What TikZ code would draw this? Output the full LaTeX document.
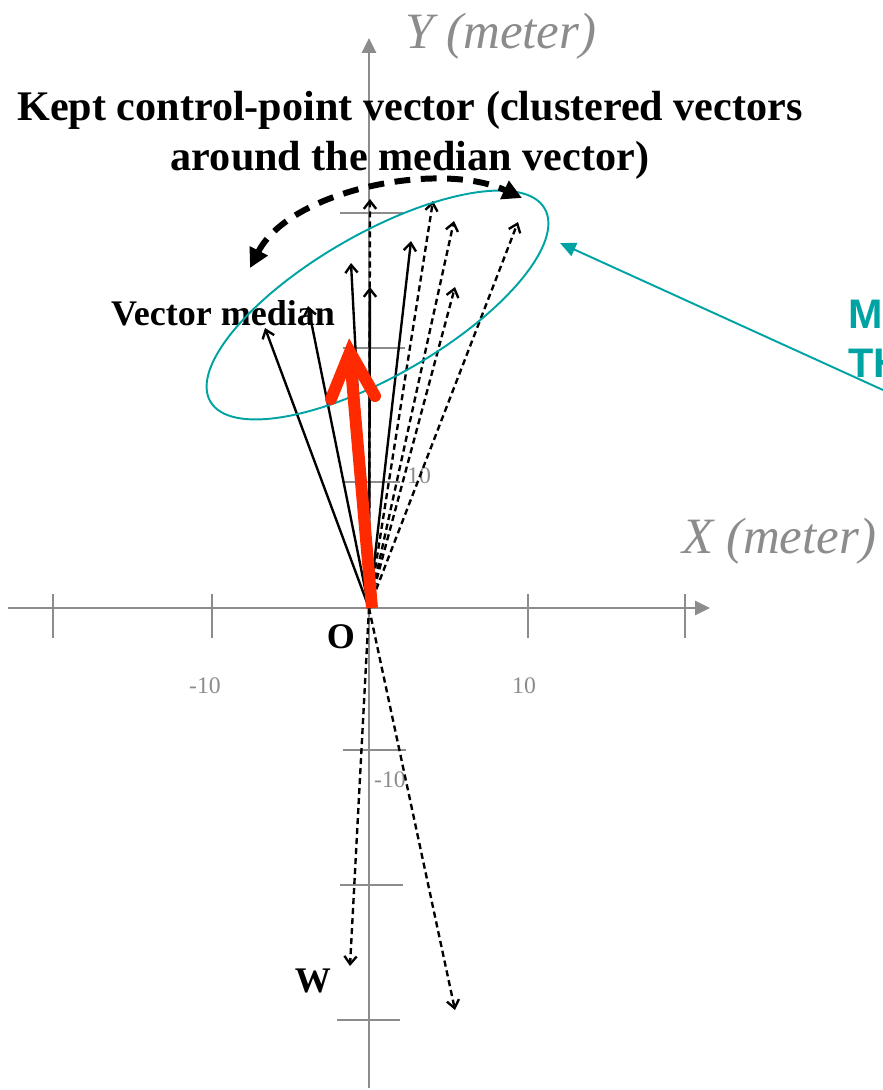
\documentclass[tikz,border=0pt]{standalone}
\usepackage{fontspec}
\setmainfont{Liberation Serif}
\newfontfamily\tealsans{Liberation Sans}
\usetikzlibrary{arrows.meta, positioning}
\definecolor{axGrey}{HTML}{8C8C8C}
\definecolor{vecRed}{HTML}{FF2A00}
\definecolor{clTeal}{HTML}{00A3A3}
\tikzset{
  axisline/.style   = {axGrey, line width=1.4pt},
  axisarrow/.style  = {axisline, -{Triangle[length=8.5pt, width=8pt]}},
  tickline/.style   = {axGrey, line width=1.1pt},
  ticklbl/.style    = {axGrey, font=\fontsize{13.5}{15}\selectfont, inner sep=0pt},
  axlbl/.style      = {axGrey, font=\fontsize{29}{32}\selectfont\itshape,
                       inner sep=0pt, anchor=base west},
  keptvec/.style    = {black, line width=1.35pt,
                       -{Straight Barb[length=4.5pt, width=7pt]}},
  dropvec/.style    = {keptvec, dash pattern=on 3.5pt off 2.2pt},
  medianvec/.style  = {vecRed, line width=6.8pt},
  swingarc/.style   = {black, line width=3.4pt, dash pattern=on 9pt off 6pt,
                       {Triangle[length=11pt, width=11pt]}-{Triangle[length=11pt, width=11pt]}},
  clusterline/.style= {clTeal, line width=1.1pt},
  boldlbl/.style    = {font=\fontsize{20.5}{24}\selectfont\bfseries, inner sep=0pt},
  titlelbl/.style   = {font=\fontsize{24}{28}\selectfont\bfseries, inner sep=0pt, anchor=base},
  teallbl/.style    = {clTeal, font=\fontsize{23.5}{26}\selectfont\tealsans\bfseries,
                       inner sep=0pt, anchor=base west},
}

\begin{document}
\begin{tikzpicture}[x=0.02cm, y=-0.02cm]
  \useasboundingbox (0,0) rectangle (883,1090);
  \begin{scope}
  \clip (0,0) rectangle (883,1090);

  \coordinate (O)  at (369,608);
  \coordinate (xl) at (8,608);
  \coordinate (xr) at (710,608);
  \coordinate (yb) at (369,1088);
  \coordinate (yt) at (369,38);
  \draw[axisarrow] (xl) -- (xr);
  \draw[axisarrow] (yb) -- (yt);

  \draw[tickline] (53,594) -- (53,638);
  \draw[tickline] (212,594) -- (212,638);
  \draw[tickline] (528,594) -- (528,638);
  \draw[tickline] (685,594) -- (685,638);
  \draw[tickline] (340,213) -- (403,213);
  \draw[tickline] (343,348) -- (405,348);
  \draw[tickline] (343,482) -- (400,482);
  \draw[tickline] (343,750) -- (406,750);
  \draw[tickline] (340,885) -- (403,885);
  \draw[tickline] (337,1020) -- (400,1020);

  \node[ticklbl] (xm10) at (205,686) {-10};
  \node[ticklbl] (xp10) at (524,686) {10};
  \node[ticklbl] (yp10) at (419,476) {10};
  \node[ticklbl] (ym10) at (390,780) {-10};

  \node[axlbl] (ylbl) at (405,48) {Y (meter)};
  \node[axlbl] (xlbl) at (682,553) {X (meter)};

  \node[titlelbl] (title1) at (410,120) {Kept control-point vector (clustered vectors};
  \node[titlelbl] (title2) at (410,170) {around the median vector)};
  \node[boldlbl, anchor=base] (vmlbl) at (223,325) {Vector median};
  \node[boldlbl, anchor=base] (olbl) at (341,648) {O};
  \node[boldlbl, anchor=base] (wlbl) at (313,992) {W};

  \coordinate (s1) at (265,328);
  \coordinate (s2) at (308,306);
  \coordinate (s3) at (351,263);
  \coordinate (s4) at (370,287);
  \coordinate (s5) at (411,241);
  \coordinate (d1) at (370,199);
  \coordinate (d2) at (433,201);
  \coordinate (d3) at (454,221);
  \coordinate (d4) at (455,287);
  \coordinate (d5) at (518,222);
  \coordinate (w1) at (350,966);
  \coordinate (w2) at (455,1010);

  \draw[keptvec] (O) -- (s1);
  \draw[keptvec] (O) -- (s2);
  \draw[keptvec] (O) -- (s3);
  \draw[keptvec] (O) -- (s4);
  \draw[keptvec] (O) -- (s5);
  \draw[dropvec] (O) -- (d1);
  \draw[dropvec] (O) -- (d2);
  \draw[dropvec] (O) -- (d3);
  \draw[dropvec] (O) -- (d4);
  \draw[dropvec] (O) -- (d5);
  \draw[dropvec] (O) -- (w1);
  \draw[dropvec] (O) -- (w2);

  \draw[clusterline, rotate around={30:(377.5,305)}] (377.5,305) ellipse [x radius=193, y radius=71];
  \coordinate (tealin) at (883,390);
  \coordinate (tealtip) at (560,243);
  \draw[clusterline, -{Triangle[length=9pt, width=8pt]}] (tealin) -- (tealtip);
  \node[teallbl] (tealm) at (848,328) {M};
  \node[teallbl] (tealth) at (848,377) {TH};

  \coordinate (medbase) at (372,608);
  \coordinate (medtip) at (350,356);
  \draw[medianvec] (medbase) -- (medtip);
  \draw[medianvec, line cap=round, line join=miter] (331,399) -- (350,352) -- (375,396);

  \coordinate (sw1) at (250,268);
  \coordinate (sw2) at (522,198);
  \draw[swingarc] (sw1) .. controls (290,190) and (440,160) .. (sw2);
  \end{scope}
\end{tikzpicture}
\end{document}
